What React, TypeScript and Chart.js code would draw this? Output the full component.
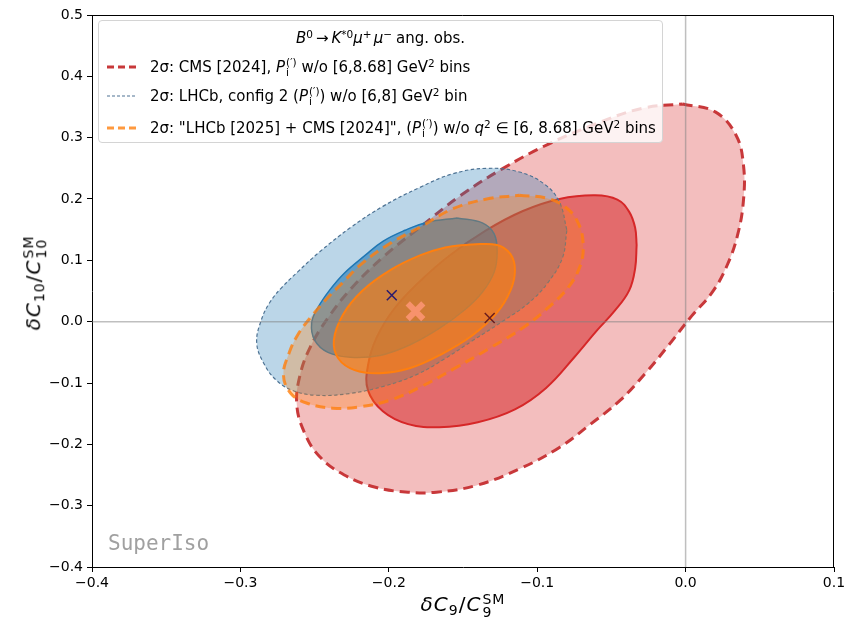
import React, { useEffect, useRef } from 'react';
import { Chart, registerables } from 'chart.js';

Chart.register(...registerables);

// Axis ranges
const X_MIN = -0.4;
const X_MAX = 0.1;
const Y_MIN = -0.4;
const Y_MAX = 0.5;
const TICK_STEP = 0.1;

// CMS [2024] 2σ contour (boundary points)
const cms2X = [-0.002, 0.02, 0.034, 0.039, 0.039, 0.035, 0.028, 0.018, 0.004, -0.011, -0.027, -0.044, -0.064, -0.085, -0.111, -0.141, -0.168, -0.187, -0.209, -0.23, -0.247, -0.257, -0.262, -0.26, -0.253, -0.241, -0.225, -0.203, -0.179, -0.152, -0.123, -0.092, -0.059, -0.029];
const cms2Y = [0.355, 0.342, 0.304, 0.255, 0.198, 0.141, 0.092, 0.048, 0.009, -0.037, -0.084, -0.128, -0.167, -0.205, -0.239, -0.267, -0.278, -0.278, -0.27, -0.25, -0.219, -0.18, -0.136, -0.089, -0.042, 0.006, 0.055, 0.107, 0.154, 0.205, 0.25, 0.29, 0.324, 0.348];

// CMS [2024] 1σ contour
const cms1X = [-0.033, -0.034, -0.038, -0.048, -0.06, -0.075, -0.094, -0.115, -0.14, -0.166, -0.187, -0.204, -0.214, -0.214, -0.208, -0.196, -0.179, -0.159, -0.135, -0.11, -0.085, -0.061, -0.046, -0.038, -0.034];
const cms1Y = [0.125, 0.087, 0.051, 0.017, -0.015, -0.058, -0.108, -0.143, -0.164, -0.172, -0.167, -0.146, -0.112, -0.071, -0.025, 0.022, 0.066, 0.108, 0.148, 0.18, 0.2, 0.206, 0.199, 0.179, 0.153];

// LHCb config 2 2σ contour
const lhcb2X = [-0.08, -0.083, -0.093, -0.106, -0.123, -0.143, -0.162, -0.181, -0.203, -0.226, -0.249, -0.265, -0.276, -0.284, -0.289, -0.286, -0.28, -0.272, -0.261, -0.247, -0.226, -0.204, -0.179, -0.157, -0.134, -0.112, -0.095, -0.085];
const lhcb2Y = [0.149, 0.104, 0.063, 0.03, 0.001, -0.03, -0.06, -0.086, -0.105, -0.117, -0.12, -0.112, -0.095, -0.069, -0.035, 0.002, 0.032, 0.056, 0.082, 0.113, 0.153, 0.188, 0.219, 0.241, 0.25, 0.244, 0.224, 0.195];

// LHCb config 2 1σ contour
const lhcb1X = [-0.154, -0.137, -0.129, -0.127, -0.129, -0.137, -0.149, -0.166, -0.186, -0.206, -0.226, -0.241, -0.25, -0.252, -0.248, -0.24, -0.23, -0.216, -0.204, -0.189, -0.174];
const lhcb1Y = [0.169, 0.161, 0.143, 0.113, 0.081, 0.048, 0.019, -0.011, -0.038, -0.055, -0.058, -0.05, -0.03, -0.002, 0.022, 0.051, 0.079, 0.108, 0.131, 0.149, 0.162];

// "LHCb [2025] + CMS [2024]" 2σ contour
const comb2X = [-0.112, -0.093, -0.08, -0.072, -0.069, -0.071, -0.079, -0.092, -0.109, -0.131, -0.154, -0.179, -0.199, -0.22, -0.238, -0.255, -0.266, -0.271, -0.267, -0.261, -0.252, -0.242, -0.231, -0.218, -0.199, -0.179, -0.157, -0.134];
const comb2Y = [0.206, 0.201, 0.185, 0.159, 0.125, 0.091, 0.056, 0.024, -0.009, -0.042, -0.074, -0.107, -0.128, -0.139, -0.141, -0.133, -0.117, -0.087, -0.05, -0.02, 0.009, 0.037, 0.064, 0.095, 0.128, 0.154, 0.184, 0.2];

// "LHCb [2025] + CMS [2024]" 1σ contour
const comb1X = [-0.145, -0.127, -0.118, -0.115, -0.118, -0.127, -0.144, -0.166, -0.186, -0.206, -0.223, -0.234, -0.237, -0.231, -0.218, -0.199, -0.179, -0.162];
const comb1Y = [0.126, 0.125, 0.11, 0.084, 0.051, 0.015, -0.023, -0.055, -0.076, -0.084, -0.079, -0.06, -0.03, 0.011, 0.05, 0.084, 0.108, 0.121];

// Best-fit points: CMS, LHCb, combined
const bestX = [-0.132, -0.198, -0.182];
const bestY = [0.006, 0.043, 0.017];

const closed = (xs: number[], ys: number[]) => {
  const pts = xs.map((x, i) => ({ x, y: ys[i] }));
  pts.push({ ...pts[0] });
  return pts;
};

const fmt = (v: number | string) => {
  const n = Number(v);
  if (Math.abs(n) < 1e-9) return '0.0';
  return n.toFixed(1).replace('-', '\u2212');
};

const framePlugin = {
  id: 'frame',
  afterDatasetsDraw(chart: any) {
    const { ctx, chartArea } = chart;
    const { left, right, top, bottom } = chartArea;
    ctx.save();
    ctx.strokeStyle = '#000';
    ctx.lineWidth = 1;
    ctx.beginPath();
    ctx.moveTo(left, top + 0.5);
    ctx.lineTo(right - 0.5, top + 0.5);
    ctx.lineTo(right - 0.5, bottom);
    ctx.stroke();
    ctx.restore();
  },
};

const FONT = "'DejaVu Sans', sans-serif";

const SS = ({ sup, sub }: { sup: string; sub: string }) => (
  <span
    style={{
      display: 'inline-flex',
      flexDirection: 'column',
      fontSize: '0.7em',
      lineHeight: 0.95,
      verticalAlign: '0.5em',
      marginLeft: 1,
    }}
  >
    <span>{sup}</span>
    <span>{sub}</span>
  </span>
);

const Sup = ({ children }: { children: any }) => (
  <span style={{ fontSize: '0.7em', verticalAlign: '0.5em', lineHeight: 0 }}>{children}</span>
);

const P = () => (
  <>
    <i>P</i>
    <SS sup={'(\u2032)'} sub="i" />
  </>
);

const LineSample = ({ color, width, dash }: { color: string; width: number; dash: string }) => (
  <svg width={32} height={10} style={{ marginRight: 12 }}>
    <line x1={1} y1={5} x2={31} y2={5} stroke={color} strokeWidth={width} strokeDasharray={dash} />
  </svg>
);

export default function App() {
  const ref = useRef<HTMLCanvasElement | null>(null);

  useEffect(() => {
    if (!ref.current) return;
    const common = { showLine: true, pointRadius: 0, tension: 0.4, fill: 'shape' as any };
    const chart = new Chart(ref.current, {
      type: 'scatter',
      data: {
        datasets: [
          {
            ...common,
            label: 'CMS 2σ',
            data: closed(cms2X, cms2Y),
            backgroundColor: 'rgba(214,39,40,0.3)',
            borderColor: '#c8383a',
            borderWidth: 3,
            borderDash: [10, 6],
            order: 16,
          },
          {
            ...common,
            label: 'CMS 1σ',
            data: closed(cms1X, cms1Y),
            backgroundColor: 'rgba(214,39,40,0.55)',
            borderColor: '#d62728',
            borderWidth: 2,
            order: 15,
          },
          {
            ...common,
            label: 'LHCb 2σ',
            data: closed(lhcb2X, lhcb2Y),
            backgroundColor: 'rgba(31,119,180,0.3)',
            borderColor: '#4e7394',
            borderWidth: 1.2,
            borderDash: [3.5, 2.5],
            order: 14,
          },
          {
            ...common,
            label: 'LHCb 1σ',
            data: closed(lhcb1X, lhcb1Y),
            backgroundColor: 'rgba(31,119,180,0.6)',
            borderColor: '#1f77b4',
            borderWidth: 1.5,
            order: 13,
          },
          {
            ...common,
            label: 'Comb 2σ',
            data: closed(comb2X, comb2Y),
            backgroundColor: 'rgba(255,127,14,0.3)',
            borderColor: 'rgba(255,127,14,0.8)',
            borderWidth: 3,
            borderDash: [10, 6],
            order: 12,
          },
          {
            ...common,
            label: 'Comb 1σ',
            data: closed(comb1X, comb1Y),
            backgroundColor: 'rgba(255,127,14,0.6)',
            borderColor: '#ff7f0e',
            borderWidth: 2,
            order: 11,
          },
          {
            label: 'x0',
            data: [
              { x: 0, y: Y_MIN },
              { x: 0, y: Y_MAX },
            ],
            showLine: true,
            pointRadius: 0,
            borderColor: 'rgba(128,128,128,0.5)',
            borderWidth: 1.5,
            order: 5,
          },
          {
            label: 'y0',
            data: [
              { x: X_MIN, y: 0 },
              { x: X_MAX, y: 0 },
            ],
            showLine: true,
            pointRadius: 0,
            borderColor: 'rgba(128,128,128,0.5)',
            borderWidth: 1.5,
            order: 4,
          },
          {
            label: 'best CMS',
            data: [{ x: bestX[0], y: bestY[0] }],
            pointStyle: 'crossRot',
            pointRadius: 7,
            pointBorderWidth: 1.5,
            borderColor: '#6b1d1d',
            backgroundColor: '#6b1d1d',
            order: 3,
          },
          {
            label: 'best LHCb',
            data: [{ x: bestX[1], y: bestY[1] }],
            pointStyle: 'crossRot',
            pointRadius: 7,
            pointBorderWidth: 1.5,
            borderColor: '#2a1a6e',
            backgroundColor: '#2a1a6e',
            order: 2,
          },
          {
            label: 'best comb',
            data: [{ x: bestX[2], y: bestY[2] }],
            pointStyle: 'crossRot',
            pointRadius: 11,
            pointBorderWidth: 6,
            borderColor: '#f7926c',
            backgroundColor: '#f7926c',
            order: 1,
          },
        ] as any,
      },
      options: {
        animation: false,
        responsive: false,
        devicePixelRatio: 1,
        layout: { autoPadding: false, padding: { left: 0, top: 15, right: 10, bottom: 0 } },
        plugins: { legend: { display: false }, tooltip: { enabled: false } },
        events: [],
        scales: {
          x: {
            type: 'linear',
            min: X_MIN,
            max: X_MAX,
            ticks: {
              stepSize: TICK_STEP,
              callback: fmt,
              color: '#000',
              font: { family: FONT, size: 14 },
              padding: 3,
              maxRotation: 0,
            },
            grid: { display: true, drawOnChartArea: false, drawTicks: true, tickLength: 5, color: '#000', tickColor: '#000' },
            border: { display: true, color: '#000', width: 1 },
            afterFit: (s: any) => {
              s.height = 56;
              s.paddingLeft = 0;
              s.paddingRight = 0;
            },
          },
          y: {
            type: 'linear',
            min: Y_MIN,
            max: Y_MAX,
            ticks: {
              stepSize: TICK_STEP,
              callback: fmt,
              color: '#000',
              font: { family: FONT, size: 14 },
              padding: 4,
            },
            grid: { display: true, drawOnChartArea: false, drawTicks: true, tickLength: 5, color: '#000', tickColor: '#000' },
            border: { display: true, color: '#000', width: 1 },
            afterFit: (s: any) => {
              s.width = 92;
              s.paddingTop = 0;
              s.paddingBottom = 0;
            },
          },
        },
      } as any,
      plugins: [framePlugin],
    });
    return () => chart.destroy();
  }, []);

  const row = (top: number): React.CSSProperties => ({
    position: 'absolute',
    left: 7,
    top,
    height: 22,
    display: 'flex',
    alignItems: 'center',
    whiteSpace: 'nowrap',
  });

  return (
    <div style={{ position: 'absolute', left: 0, top: 0, width: 844, height: 623, background: '#fff' }}>
      <canvas ref={ref} width={844} height={623} style={{ display: 'block' }} />

      {/* Legend */}
      <div
        style={{
          position: 'absolute',
          left: 98,
          top: 20,
          width: 563,
          height: 121,
          border: '1px solid #d4d4d4',
          borderRadius: 4,
          background: 'rgba(255,255,255,0.8)',
          fontFamily: FONT,
          fontSize: 15,
          color: '#000',
          lineHeight: '22px',
        }}
      >
        <div style={{ position: 'absolute', left: 0, right: 0, top: 6, textAlign: 'center', whiteSpace: 'nowrap' }}>
          <i>B</i>
          <Sup>0</Sup>
          <span style={{ margin: '0 3px' }}>{'\u2192'}</span>
          <i>K</i>
          <Sup>*0</Sup>
          <i>μ</i>
          <Sup>+</Sup>
          <span style={{ marginLeft: 2 }}>
            <i>μ</i>
          </span>
          <Sup>{'\u2212'}</Sup>
          <span style={{ marginLeft: 4 }}>ang. obs.</span>
        </div>
        <div style={row(35)}>
          <LineSample color="#c8383a" width={3} dash="7 4" />
          <span>
            2σ: CMS [2024], <P /> w/o [6,8.68] GeV<Sup>2</Sup> bins
          </span>
        </div>
        <div style={row(64)}>
          <LineSample color="#4e7394" width={1.2} dash="3 2" />
          <span>
            2σ: LHCb, config 2 (<P />) w/o [6,8] GeV<Sup>2</Sup> bin
          </span>
        </div>
        <div style={row(96)}>
          <LineSample color="rgba(255,127,14,0.8)" width={3} dash="7 4" />
          <span>
            2σ: "LHCb [2025] + CMS [2024]", (<P />) w/o <i>q</i>
            <Sup>2</Sup> {'\u2208'} [6, 8.68] GeV<Sup>2</Sup> bins
          </span>
        </div>
      </div>

      {/* Watermark */}
      <div
        style={{
          position: 'absolute',
          left: 108,
          top: 531,
          fontFamily: "'DejaVu Sans Mono', monospace",
          fontSize: 21,
          color: '#a0a0a0',
          whiteSpace: 'nowrap',
        }}
      >
        SuperIso
      </div>

      {/* X axis title */}
      <div
        style={{
          position: 'absolute',
          left: 463,
          top: 606,
          transform: 'translate(-50%, -50%)',
          fontFamily: FONT,
          fontSize: 20,
          letterSpacing: 1,
          whiteSpace: 'nowrap',
        }}
      >
        <i>δC</i>
        <span style={{ fontSize: '0.7em', verticalAlign: '-0.3em' }}>9</span>/<i>C</i>
        <SS sup="SM" sub="9" />
      </div>

      {/* Y axis title */}
      <div
        style={{
          position: 'absolute',
          left: 35,
          top: 283,
          transform: 'translate(-50%, -50%) rotate(-90deg)',
          fontFamily: FONT,
          fontSize: 20,
          letterSpacing: 1,
          whiteSpace: 'nowrap',
        }}
      >
        <i>δC</i>
        <span style={{ fontSize: '0.7em', verticalAlign: '-0.3em' }}>10</span>/<i>C</i>
        <SS sup="SM" sub="10" />
      </div>
    </div>
  );
}
